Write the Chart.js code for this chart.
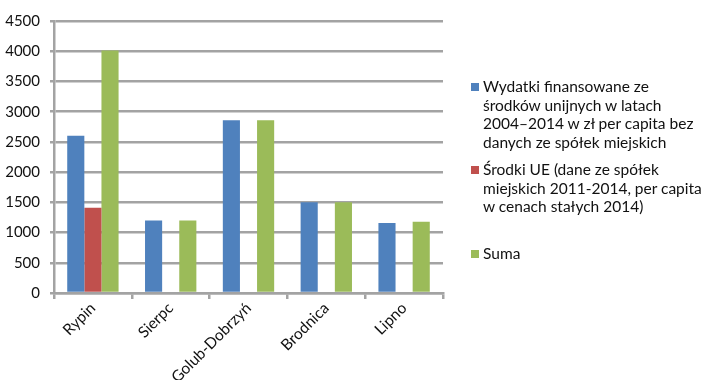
<!DOCTYPE html>
<html lang="pl">
<head>
  <meta charset="UTF-8">
  <title>Wydatki z funduszy UE per capita</title>
  <script src="https://cdn.jsdelivr.net/npm/chart.js"></script>
  <style>
    html, body { margin: 0; padding: 0; background: #fff; }
    #wrap { position: relative; width: 710px; height: 380px; }
    #legend { position: absolute; left: 471px; top: 77px; width: 240px; font-family: Lato, sans-serif; font-size: 15.5px; line-height: 18.5px; color: #111; }
    .item { position: absolute; left: 0; padding-left: 12px; white-space: nowrap; }
    .box { position: absolute; left: 0; top: 6px; width: 8px; height: 8px; }
  </style>
</head>
<body>
  <div id="wrap">
    <canvas id="chart" width="710" height="380"></canvas>
    <div id="legend"></div>
  </div>
  <script>
    // Data
    const towns = ['Rypin', 'Sierpc', 'Golub-Dobrzyń', 'Brodnica', 'Lipno'];
    const wydatki = [2600, 1200, 2860, 1500, 1160];
    const srodkiUE = [1410, null, null, null, null];
    const suma = [4010, 1200, 2860, 1500, 1180];
    const yTicks = [0, 500, 1000, 1500, 2000, 2500, 3000, 3500, 4000, 4500];

    const labelWydatki = ['Wydatki finansowane ze', 'środków unijnych w latach', '2004–2014 w zł per capita bez', 'danych ze spółek miejskich'];
    const labelSrodki = ['Środki UE (dane ze spółek', 'miejskich 2011-2014, per capita', 'w cenach stałych 2014)'];
    const labelSuma = ['Suma'];

    const colors = ['#4F81BD', '#C0504D', '#9BBB59'];
    const gridColor = '#a3a3a3';

    const chart = new Chart(document.getElementById('chart'), {
      type: 'bar',
      data: {
        labels: towns,
        datasets: [
          { label: labelWydatki.join(' '), data: wydatki, backgroundColor: colors[0] },
          { label: labelSrodki.join(' '), data: srodkiUE, backgroundColor: colors[1] },
          { label: labelSuma.join(' '), data: suma, backgroundColor: colors[2] }
        ]
      },
      options: {
        responsive: false,
        animation: false,
        layout: { padding: { top: 21, right: 267, left: 0, bottom: 0 } },
        datasets: { bar: { categoryPercentage: 0.66, barPercentage: 1 } },
        plugins: { legend: { display: false }, tooltip: { enabled: false } },
        scales: {
          x: {
            afterFit: s => { s.height = 87; },
            grid: { display: true, drawOnChartArea: false, drawTicks: true, tickLength: 6, color: gridColor, lineWidth: 2.5, offset: true },
            border: { display: true, color: gridColor, width: 2.5 },
            ticks: { color: '#111', font: { family: 'Lato', size: 15.5 }, minRotation: 45, maxRotation: 45, padding: 0 }
          },
          y: {
            min: 0,
            max: 4500,
            afterFit: s => { s.width = 54; },
            afterBuildTicks: s => { s.ticks = yTicks.map(v => ({ value: v })); },
            grid: { color: gridColor, lineWidth: 2.5, tickLength: 4 },
            border: { display: true, color: gridColor, width: 2.5 },
            ticks: { color: '#111', font: { family: 'Lato', size: 15 }, padding: 10, callback: v => String(v) }
          }
        }
      }
    });

    // HTML legend with the line breaks of the original
    const legendItems = [
      { lines: labelWydatki, color: colors[0], top: 0 },
      { lines: labelSrodki, color: colors[1], top: 83 },
      { lines: labelSuma, color: colors[2], top: 167 }
    ];
    const legend = document.getElementById('legend');
    legendItems.forEach(item => {
      const div = document.createElement('div');
      div.className = 'item';
      div.style.top = item.top + 'px';
      const box = document.createElement('span');
      box.className = 'box';
      box.style.background = item.color;
      div.appendChild(box);
      div.innerHTML += item.lines.join('<br>');
      legend.appendChild(div);
    });
  </script>
</body>
</html>
